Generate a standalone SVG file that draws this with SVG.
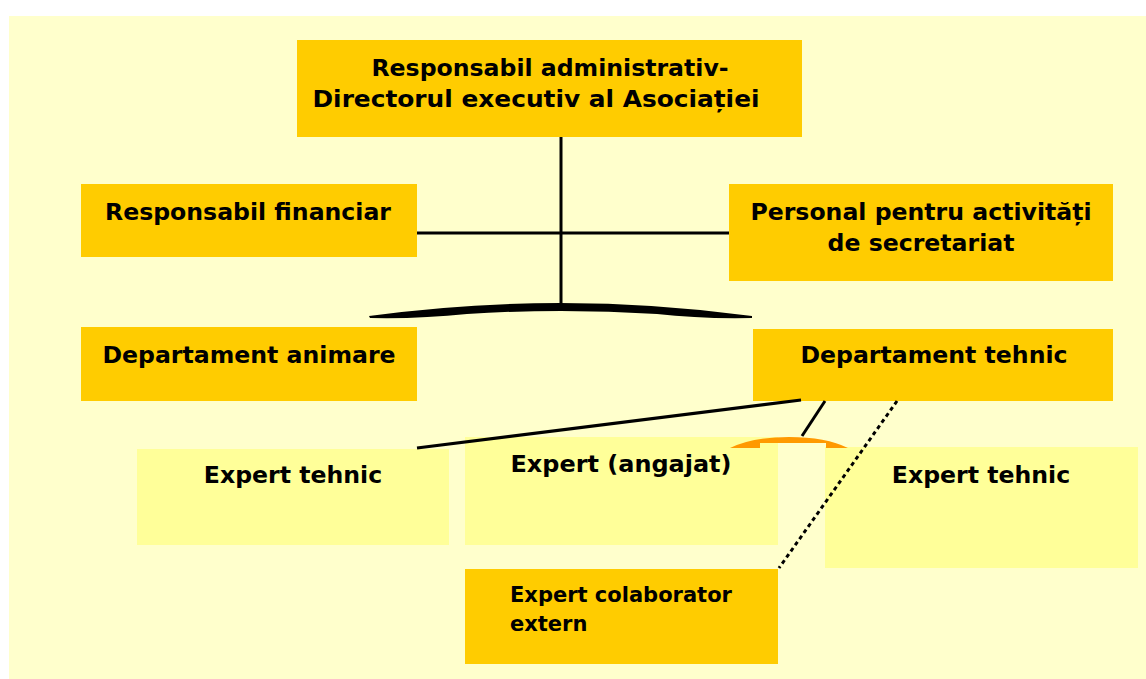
<svg xmlns="http://www.w3.org/2000/svg" width="1146" height="679" viewBox="0 0 1146 679">
<style>
.bg{fill:#FFFFCC}
.dark{fill:#FFCC00}
.light{fill:#FFFF99}
text{font-family:"DejaVu Sans","Liberation Sans",sans-serif;font-weight:bold;fill:#000}
.t{font-size:23.6px;text-anchor:middle}
.s{font-size:21px}
.ln{stroke:#000;stroke-width:3;fill:none}
</style>
<rect x="0" y="0" width="1146" height="679" fill="#FFFFFF"/>
<rect class="bg" x="9" y="16" width="1137" height="663"/>
<g id="n-director">
<rect class="dark" x="297" y="40" width="505" height="97"/>
<text class="t" x="550" y="76">Responsabil administrativ-</text>
<text class="t" x="536" y="107" textLength="447" lengthAdjust="spacingAndGlyphs">Directorul executiv al Asociației</text>
</g>
<g id="n-financiar">
<rect class="dark" x="81" y="184" width="336" height="73"/>
<text class="t" x="248" y="220">Responsabil financiar</text>
</g>
<g id="n-secretariat">
<rect class="dark" x="729" y="184" width="384" height="97"/>
<text class="t" x="921" y="220">Personal pentru activități</text>
<text class="t" x="921" y="251">de secretariat</text>
</g>
<g id="n-animare">
<rect class="dark" x="81" y="327" width="336" height="74"/>
<text class="t" x="249" y="363">Departament animare</text>
</g>
<g id="n-tehnic">
<rect class="dark" x="753" y="329" width="360" height="72"/>
<text class="t" x="934" y="363">Departament tehnic</text>
</g>
<g id="n-expert1">
<rect class="light" x="137" y="449" width="312" height="96"/>
<text class="t" x="293" y="483">Expert tehnic</text>
</g>
<g id="n-expert2">
<rect class="light" x="465" y="437" width="313" height="108"/>
<text class="t" x="621" y="472" textLength="221" lengthAdjust="spacingAndGlyphs">Expert (angajat)</text>
</g>
<g id="n-expert3">
<rect class="light" x="825" y="447" width="313" height="121"/>
<text class="t" x="981" y="483">Expert tehnic</text>
</g>
<g id="n-extern">
<rect class="dark" x="465" y="569" width="313" height="95"/>
<text class="s" x="510" y="602">Expert colaborator</text>
<text class="s" x="510" y="631">extern</text>
</g>
<g id="connectors">
<line class="ln" x1="561" y1="137" x2="561" y2="305"/>
<line class="ln" x1="417" y1="233" x2="729" y2="233" stroke-width="2.5"/>
<path d="M369,316 Q560,290 752,316 L752,318 Q700,319 657,314 Q560,308 467,314 Q420,319 370,318 Z" fill="#000"/>
<line class="ln" x1="801" y1="400" x2="417" y2="448"/>
<line class="ln" x1="825" y1="401" x2="802" y2="436"/>
<line class="ln" x1="897" y1="401" x2="779" y2="568" stroke-width="4" stroke-dasharray="4 3.5"/>
<path d="M730,448 Q752,437 789,437 Q826,437 848,448 L826,448 L826,443 L760,443 L760,448 Z" fill="#FF9900"/>
</g>
</svg>
